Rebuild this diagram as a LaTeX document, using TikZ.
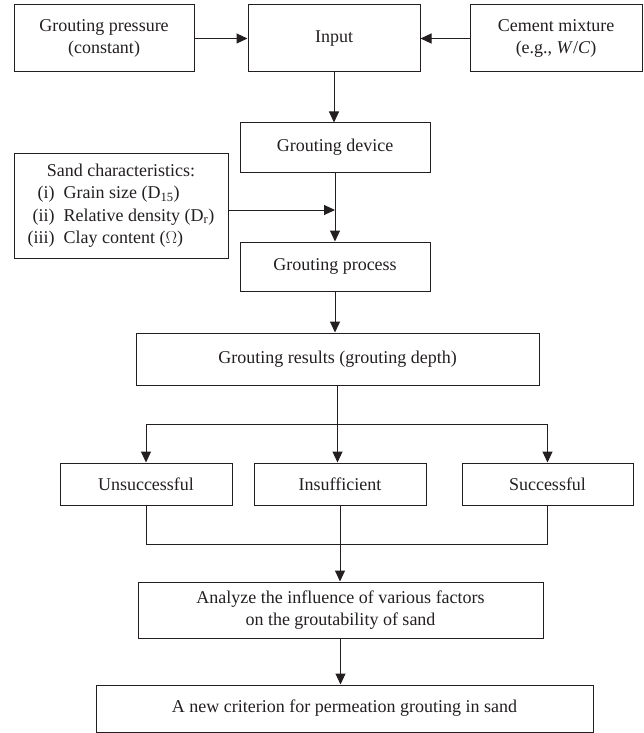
\documentclass[tikz,border=0pt]{standalone}
\usepackage{fontspec}
\setmainfont{Liberation Serif}
\usetikzlibrary{arrows.meta}
\definecolor{ink}{RGB}{35,31,32}
\begin{document}
\begin{tikzpicture}[x=1pt,y=-1pt,
  box/.style={draw=ink,line width=1pt,inner sep=0pt,align=center,text=ink,
    font=\fontsize{18}{22.5}\selectfont},
  arr/.style={draw=ink,line width=1pt,-{Triangle[length=11pt,width=10pt]}},
  ln/.style={draw=ink,line width=1pt}]
\useasboundingbox (0,0) rectangle (643,733);
\node[box,minimum width=180pt,minimum height=67pt] (press) at (104,38.5) {Grouting pressure\\(constant)};
\node[box,minimum width=172pt,minimum height=67pt] (input) at (334,38.5) {Input};
\node[box,minimum width=172pt,minimum height=67pt] (cement) at (556,38.5) {Cement mixture\\(e.g., \textit{W}/\textit{C})};
\node[box,minimum width=190pt,minimum height=49pt] (device) at (335,147.5) {Grouting device};
\node[box,minimum width=214pt,minimum height=105pt] (sand) at (121,205.5) {%
  \begin{tabular}{@{}r@{\ \ }l@{}}
  \multicolumn{2}{c}{Sand characteristics:}\\
  (i) & Grain size (D\textsubscript{15})\\
  (ii) & Relative density (D\textsubscript{r})\\
  (iii) & Clay content ($\Omega$)
  \end{tabular}};
\node[box,minimum width=190pt,minimum height=49pt] (process) at (335,266.5) {Grouting process};
\node[box,minimum width=403pt,minimum height=52pt] (results) at (337.5,359) {Grouting results (grouting depth)};
\node[box,minimum width=172pt,minimum height=42pt] (unsucc) at (146,484) {Unsuccessful};
\node[box,minimum width=172pt,minimum height=42pt] (insuff) at (340,484) {Insufficient};
\node[box,minimum width=171pt,minimum height=42pt] (succ) at (547.5,484) {Successful};
\node[box,minimum width=405pt,minimum height=56pt] (analyze) at (340.5,610) {Analyze the influence of various factors\\on the groutability of sand};
\node[box,minimum width=497pt,minimum height=47pt] (final) at (344.5,708.5) {A new criterion for permeation grouting in sand};
% connectors
\draw[arr] (press.east) -- (input.west);
\draw[arr] (cement.west) -- (input.east);
\draw[arr] (input.south) -- (input.south |- device.north);
\coordinate (sj) at (335,210);
\draw[arr] (device.south) -- (process.north);
\draw[arr] (sand.east |- sj) -- (sj);
\draw[arr] (process.south) -- (process.south |- results.north);
\coordinate (br) at (338,424);
\draw[ln] (unsucc.north |- br) -- (succ.north |- br);
\draw[arr] (results.south) -- (results.south |- insuff.north);
\draw[arr] (unsucc.north |- br) -- (unsucc.north);
\draw[arr] (succ.north |- br) -- (succ.north);
\coordinate (mg) at (339,544);
\draw[ln] (unsucc.south) -- (unsucc.south |- mg) -- (succ.south |- mg) -- (succ.south);
\draw[arr] (insuff.south) -- (insuff.south |- analyze.north);
\draw[arr] (analyze.south) -- (analyze.south |- final.north);
\end{tikzpicture}
\end{document}
